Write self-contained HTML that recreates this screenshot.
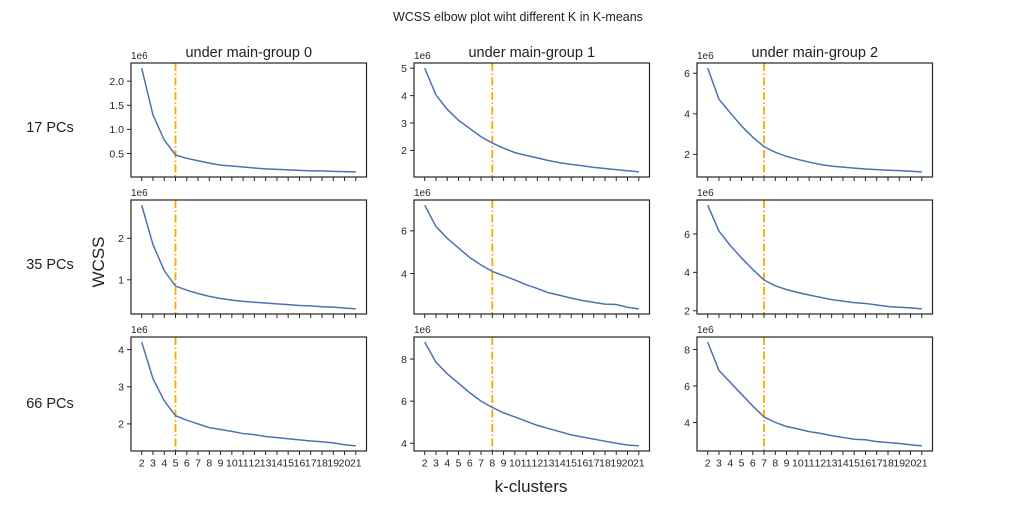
<!DOCTYPE html>
<html><head><meta charset="utf-8"><style>
body{margin:0;background:#fff;}
svg{display:block;font-family:"Liberation Sans",Arial,sans-serif;}
</style></head><body>
<svg id="fig" width="1036" height="518" viewBox="0 0 1036 518" xmlns="http://www.w3.org/2000/svg">
<text x="518" y="21" font-size="12.5" text-anchor="middle" fill="#222">WCSS elbow plot wiht different K in K-means</text>
<text x="50" y="132" font-size="14.5" text-anchor="middle" fill="#222">17 PCs</text>
<text x="50" y="269" font-size="14.5" text-anchor="middle" fill="#222">35 PCs</text>
<text x="50" y="408" font-size="14.5" text-anchor="middle" fill="#222">66 PCs</text>
<text x="104" y="262" font-size="17" text-anchor="middle" fill="#222" transform="rotate(-90 104 262)">WCSS</text>
<text x="531" y="492" font-size="17" text-anchor="middle" fill="#222">k-clusters</text>
</svg>
<script>
const kValues=[2,3,4,5,6,7,8,9,10,11,12,13,14,15,16,17,18,19,20,21];
const g0_17=[2.27,1.30,0.78,0.47,0.40,0.35,0.30,0.26,0.24,0.22,0.20,0.18,0.17,0.16,0.15,0.14,0.14,0.13,0.125,0.12];
const g0_35=[2.80,1.85,1.22,0.85,0.75,0.67,0.60,0.55,0.51,0.48,0.46,0.44,0.42,0.40,0.38,0.37,0.35,0.34,0.32,0.30];
const g0_66=[4.20,3.22,2.62,2.22,2.10,2.00,1.90,1.85,1.80,1.74,1.71,1.66,1.63,1.60,1.57,1.54,1.52,1.49,1.44,1.41];
const g1_17=[5.00,4.02,3.50,3.10,2.80,2.50,2.27,2.08,1.92,1.82,1.73,1.63,1.55,1.49,1.44,1.38,1.34,1.30,1.26,1.22];
const g1_35=[7.20,6.20,5.65,5.20,4.75,4.40,4.10,3.90,3.70,3.48,3.30,3.10,2.98,2.85,2.74,2.65,2.57,2.55,2.42,2.35];
const g1_66=[8.80,7.85,7.30,6.85,6.40,6.00,5.70,5.45,5.25,5.05,4.85,4.70,4.55,4.40,4.30,4.20,4.10,4.00,3.92,3.88];
const g2_17=[6.25,4.72,4.05,3.40,2.85,2.38,2.10,1.90,1.75,1.62,1.50,1.42,1.37,1.32,1.28,1.25,1.22,1.20,1.17,1.14];
const g2_35=[7.50,6.15,5.40,4.75,4.15,3.60,3.30,3.10,2.95,2.82,2.70,2.58,2.50,2.42,2.38,2.30,2.22,2.18,2.15,2.10];
const g2_66=[8.40,6.85,6.20,5.55,4.90,4.30,4.00,3.78,3.65,3.50,3.40,3.28,3.18,3.08,3.05,2.95,2.90,2.85,2.78,2.72];
const elbowK=[5,8,7];
const groupTitles=["under main-group 0","under main-group 1","under main-group 2"];
const pcLabels=["17","35","66"];
const yTicks=[
 [[0.5,1.0,1.5,2.0],[1,2],[2,3,4]],
 [[2,3,4,5],[4,6],[4,6,8]],
 [[2,4,6],[2,4,6],[4,6,8]]
];
const series=[[g0_17,g0_35,g0_66],[g1_17,g1_35,g1_66],[g2_17,g2_35,g2_66]];

const NS="http://www.w3.org/2000/svg";
const svg=document.getElementById('fig');
function mk(tag,attrs,parent){const e=document.createElementNS(NS,tag);for(const k in attrs)e.setAttribute(k,attrs[k]);(parent||svg).appendChild(e);return e;}
const colX=[131,414,697], rowY=[63,200,337], W=235.5, H=114;
for(let c=0;c<3;c++){for(let r=0;r<3;r++){
 const data=series[c][r];
 const L=colX[c],T=rowY[r];
 const g=mk('g',{});
 
 
 const kmin=Math.min(...kValues),kmax=Math.max(...kValues);
 const xm=(kmax-kmin)*0.05;
 const xs=v=>L+(v-(kmin-xm))/((kmax-kmin)+2*xm)*W;
 const dmin=Math.min(...data),dmax=Math.max(...data),ym=(dmax-dmin)*0.05;
 const ys=v=>T+H-(v-(dmin-ym))/((dmax-dmin)+2*ym)*H;
 const vl=mk('line',{x1:xs(elbowK[c]),x2:xs(elbowK[c]),y1:T,y2:T+H,stroke:'#ffa500','stroke-width':1.8,'stroke-dasharray':'8,2.5,1.5,2.5'},g);
 
 
 const pl=mk('polyline',{points:data.map((v,i)=>xs(kValues[i]).toFixed(2)+','+ys(v).toFixed(2)).join(' '),fill:'none',stroke:'#4c72b0','stroke-width':1.5},g);
 
 
 const fr=mk('rect',{x:L,y:T,width:W,height:H,fill:'none',stroke:'#262626','stroke-width':1.2},g);
 
 
 kValues.forEach(k=>{
  mk('line',{x1:xs(k),x2:xs(k),y1:T+H,y2:T+H+4,stroke:'#262626','stroke-width':1},g);
  if(r===2){const t=mk('text',{x:xs(k),y:T+H+15.5,'font-size':10.5,'text-anchor':'middle',fill:'#262626'},g);t.textContent=k;
   
   }
 });
 yTicks[c][r].forEach(v=>{
  const y=ys(v);
  mk('line',{x1:L-4,x2:L,y1:y,y2:y,stroke:'#262626','stroke-width':1},g);
  const t=mk('text',{x:L-7,y:y+3.8,'font-size':10.5,'text-anchor':'end',fill:'#262626'},g);
  t.textContent=(c===0&&r===0)?v.toFixed(1):String(v);
  
  
 });
 const off=mk('text',{x:L,y:T-4,'font-size':10,fill:'#262626'},g);off.textContent='1e6';
 
 
 if(r===0){const t=mk('text',{x:L+W/2,y:T-6,'font-size':14.5,'text-anchor':'middle',fill:'#222'},g);t.textContent=groupTitles[c];
  
  }
}}
</script>
</body></html>
